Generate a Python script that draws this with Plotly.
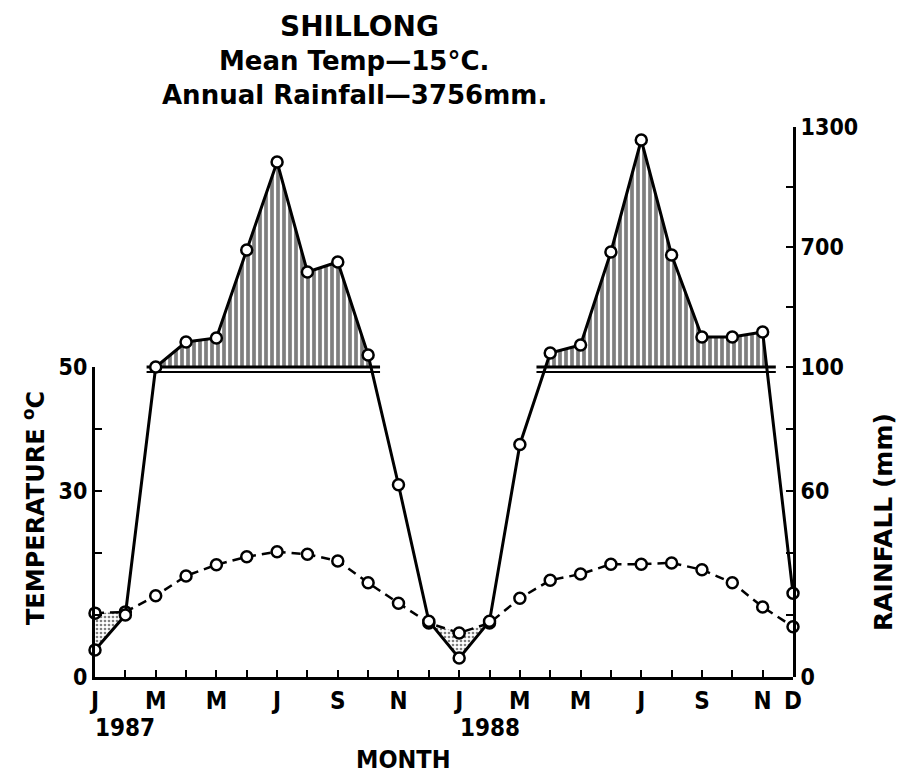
import numpy as np
import plotly.graph_objects as go

# ---------------- data (Jan 1987 .. Dec 1988) ----------------
months = ['J', 'F', 'M', 'A', 'M', 'J', 'J', 'A', 'S', 'O', 'N', 'D',
          'J', 'F', 'M', 'A', 'M', 'J', 'J', 'A', 'S', 'O', 'N', 'D']
temperature_c = [10.3, 10.5, 13.1, 16.3, 18.1, 19.4, 20.2, 19.8, 18.7, 15.2, 11.9, 8.7,
                 7.1, 8.7, 12.7, 15.6, 16.6, 18.2, 18.2, 18.4, 17.3, 15.2, 11.3, 8.1]
rainfall_mm = [8.7, 20, 100, 225, 245, 685, 1125, 575, 625, 160, 62, 18,
               6.1, 18, 75, 170, 210, 675, 1235, 660, 250, 250, 275, 27]
x_tick_text = ['J', '', 'M', '', 'M', '', 'J', '', 'S', '', 'N', '',
               'J', '', 'M', '', 'M', '', 'J', '', 'S', '', 'N', 'D']
temp_tick_vals = [0, 10, 20, 30, 40, 50]
temp_tick_text = ['0', '', '', '30', '', '50']
rain_tick_vals = [0, 20, 40, 60, 80, 100, 400, 700, 1000, 1300]
rain_tick_text = ['0', '', '', '60', '', '100', '', '700', '', '1300']
year_labels = ['1987', '1988']
year_month_pos = [1.0, 13.0]

# ---------------- Walter-Lieth scale ----------------
U_TOP = 88.7          # top of plot in temperature units
def rain_units(r):
    r = np.asarray(r, dtype=float)
    return np.where(r <= 100, r / 2.0, 50 + (r - 100) * (U_TOP - 50) / 1200.0)

idx = np.arange(len(months), dtype=float)
tc = np.asarray(temperature_c, dtype=float)
ru = rain_units(rainfall_mm)

def runs(d, inclusive):
    inrun = d >= 0 if inclusive else d > 0
    res, i, n = [], 0, len(d)
    while i < n:
        if inrun[i]:
            j = i
            while j + 1 < n and inrun[j + 1]:
                j += 1
            xs = float(i) if i == 0 else (i - 1) + d[i - 1] / (d[i - 1] - d[i])
            xe = float(j) if j == n - 1 else j + d[j] / (d[j] - d[j + 1])
            res.append((xs, list(range(i, j + 1)), xe))
            i = j + 1
        else:
            i += 1
    return res

FONT = "DejaVu Sans Condensed, Liberation Sans Narrow, DejaVu Sans, sans-serif"
WIDE = "DejaVu Sans, Liberation Sans, sans-serif"
fig = go.Figure()

# humid (>100 mm) hatched areas
for xs, run, xe in runs(ru - 50, True):
    fig.add_trace(go.Scatter(
        x=[xs] + [idx[k] for k in run] + [xe],
        y=[50] + [ru[k] for k in run] + [50],
        mode='lines', fill='toself', line=dict(width=0, color='black'),
        fillcolor='white',
        fillpattern=dict(shape='|', fgcolor='black', bgcolor='white', size=6, solidity=0.62),
        hoverinfo='skip', xaxis='x', yaxis='y'))
    pad = 0.3
    for off, w in [(0.0, 3), (-0.8, 2)]:
        fig.add_trace(go.Scatter(x=[xs - pad, xe + pad], y=[50 + off, 50 + off], mode='lines',
                                 line=dict(color='black', width=w), hoverinfo='skip',
                                 xaxis='x', yaxis='y'))

# arid (rain below temperature) stippled areas
for xs, run, xe in runs(tc - ru, False):
    tx = [xs] + [idx[k] for k in run] + [xe]
    t_top = [np.interp(xs, idx, tc)] + [tc[k] for k in run] + [np.interp(xe, idx, tc)]
    r_bot = [np.interp(xs, idx, ru)] + [ru[k] for k in run] + [np.interp(xe, idx, ru)]
    fig.add_trace(go.Scatter(
        x=tx + tx[::-1], y=t_top + r_bot[::-1], mode='lines', fill='toself',
        line=dict(width=0, color='black'), fillcolor='white',
        fillpattern=dict(shape='.', fgcolor='black', bgcolor='white', size=4, solidity=0.35),
        hoverinfo='skip', xaxis='x', yaxis='y'))

# temperature curve (dashed)
fig.add_trace(go.Scatter(
    x=idx, y=tc, mode='lines+markers', cliponaxis=False,
    line=dict(color='black', width=2.5, dash='9px,6px'),
    marker=dict(symbol='circle', size=11, color='white', line=dict(color='black', width=2.5)),
    xaxis='x', yaxis='y'))

# rainfall curve (solid)
fig.add_trace(go.Scatter(
    x=idx, y=ru, mode='lines+markers', cliponaxis=False,
    line=dict(color='black', width=3),
    marker=dict(symbol='circle', size=11, color='white', line=dict(color='black', width=2.5)),
    xaxis='x', yaxis='y2'))

L, R, T, B = 95, 107, 127, 99
W, H = 900, 776
PW, PH = W - L - R, H - T - B
def px(xp):
    return (xp - L) / PW
def py(yp):
    return (H - B - yp) / PH

axis_common = dict(showgrid=False, zeroline=False, showline=True, linecolor='black',
                   linewidth=3, ticks='inside', tickcolor='black', tickwidth=2, ticklen=7)

fig.update_layout(
    width=W, height=H, margin=dict(l=L, r=R, t=T, b=B),
    paper_bgcolor='white', plot_bgcolor='rgba(0,0,0,0)', showlegend=False,
    font=dict(family=FONT, color='black'),
    xaxis=dict(range=[0, len(months) - 1], tickvals=idx, ticktext=x_tick_text, tickangle=0,
               anchor='y3', ticklabelstandoff=0,
               tickfont=dict(size=24, family=FONT, weight='bold'),
               **axis_common),
    yaxis=dict(domain=[0, 1], range=[0, U_TOP], visible=False, anchor='x'),
    yaxis2=dict(overlaying='y', side='right', anchor='x', range=[0, U_TOP],
                tickvals=list(rain_units(rain_tick_vals)), ticktext=rain_tick_text,
                tickfont=dict(size=23, family=FONT, weight='bold'), **axis_common),
    yaxis3=dict(domain=[0, 50 / U_TOP], range=[0, 50], anchor='x', side='left',
                tickvals=temp_tick_vals, ticktext=temp_tick_text,
                tickfont=dict(size=23, family=FONT, weight='bold'), **axis_common),
)

# empty anchor trace so the left temperature axis is drawn
fig.add_trace(go.Scatter(x=[None], y=[None], xaxis='x', yaxis='y3', hoverinfo='skip'))

def ann(text, x, y, size, xanchor='center', textangle=0, xref='paper', family=FONT):
    fig.add_annotation(text=text, x=x, y=y, xref=xref, yref='paper', showarrow=False,
                       xanchor=xanchor, yanchor='middle', textangle=textangle,
                       font=dict(size=size, family=family, color='black', weight='bold'))

ann('SHILLONG', px(278), py(27), 28, xanchor='left', family=WIDE)
ann('Mean Temp—15°C.', px(217), py(61), 26, xanchor='left', family=WIDE)
ann('Annual Rainfall—3756mm.', px(160), py(95), 26, xanchor='left', family=WIDE)
ann('TEMPERATURE <sup>o</sup>C', px(34), py(508), 24, textangle=-90, family=WIDE)
ann('RAINFALL (mm)', px(883), py(522), 25, textangle=-90, family=WIDE)
for lab, m in zip(year_labels, year_month_pos):
    ann(lab, m, py(728), 24, xref='x')
ann('MONTH', px(403), py(759), 25)

fig.write_html("out.html")
